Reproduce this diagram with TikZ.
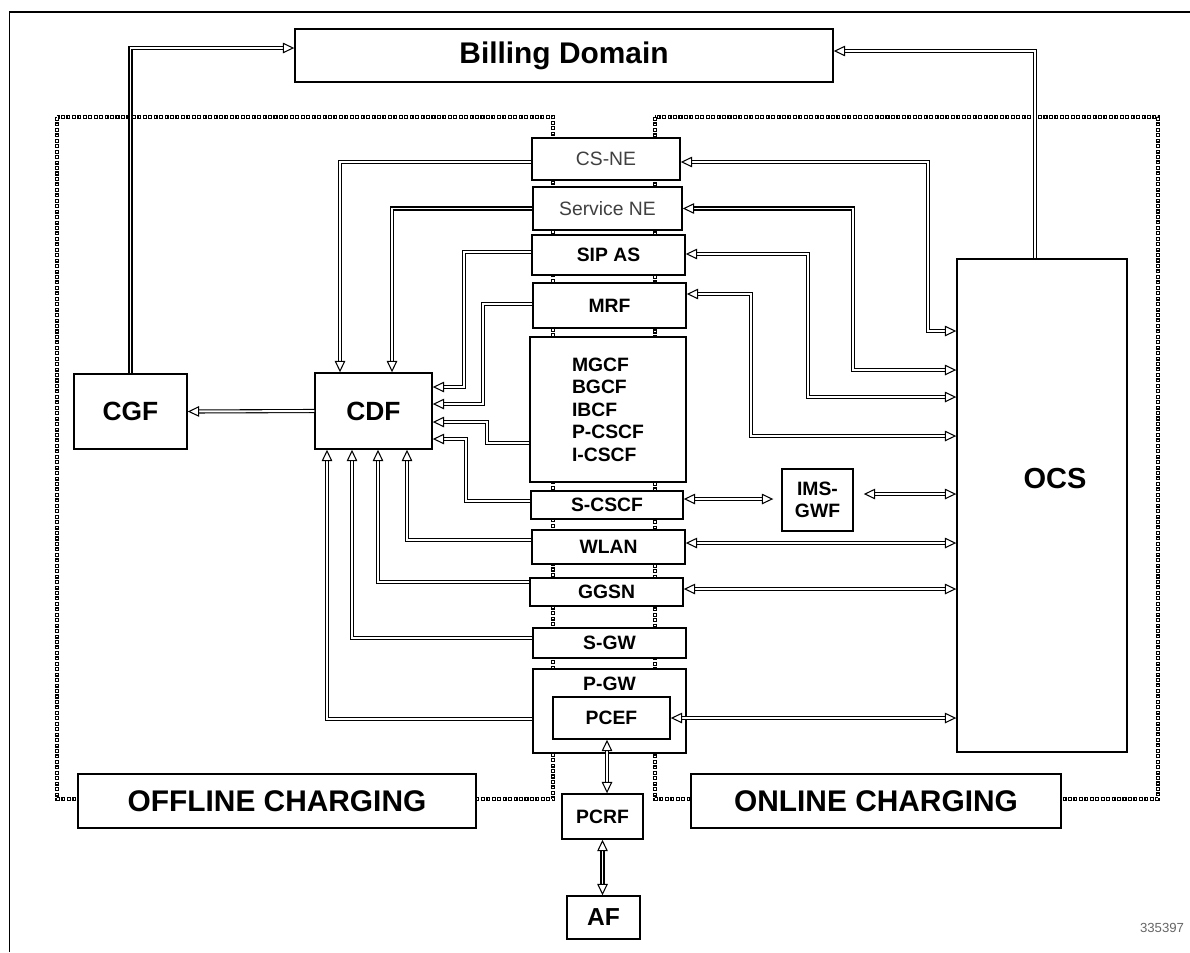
\documentclass[tikz,border=0pt]{standalone}
\usepackage{fontspec}
\setmainfont{Liberation Sans}
\usetikzlibrary{arrows.meta,positioning,backgrounds}

\begin{document}
\begin{tikzpicture}[
    x=0.2mm, y=-0.2mm,
    >={Triangle[open, length=6.5pt, width=6pt, line width=0.6pt]},
    box/.style={draw, line width=0.8pt, fill=white, inner sep=0pt, font=\fontsize{11}{13}\selectfont\bfseries},
    bigbox/.style={box, font=\fontsize{17}{20}\selectfont\bfseries},
    nebox/.style={box, font=\fontsize{11}{13}\selectfont, text=black!75},
    link/.style={double, line width=0.62pt, double distance=1.1pt},
    area/.style={line width=2pt, dash pattern=on 2.3pt off 0.8pt,
        postaction={draw=white, line width=0.6pt, dash pattern=on 0.9pt off 2.2pt, dash phase=2.4pt}}
]
\useasboundingbox (0,0) rectangle (1190,952);
\draw[line width=0.8pt] (9.6,952) -- (9.6,12) -- (1190,12);

\node[bigbox, minimum width=107.6mm, minimum height=10.6mm] (billing) at (564,55.5) {Billing Domain};

\node[box, minimum width=22.6mm, minimum height=15mm, font=\fontsize{15}{18}\selectfont\bfseries] (cgf) at (130.5,411.5) {CGF};
\node[box, minimum width=23.4mm, minimum height=15.2mm, font=\fontsize{15}{18}\selectfont\bfseries] (cdf) at (373.5,411) {CDF};

\node[nebox, minimum width=29.6mm, minimum height=8.4mm] (csne) at (606,159) {CS-NE};
\node[nebox, minimum width=29.8mm, minimum height=8.6mm] (servne) at (607.5,208.5) {Service NE};
\node[box, minimum width=30.6mm, minimum height=8mm] (sipas) at (608.5,255) {SIP AS};
\node[box, minimum width=30.6mm, minimum height=9mm] (mrf) at (609.5,305.5) {MRF};
\node[box, minimum width=31.2mm, minimum height=29mm, align=left, font=\fontsize{11}{12.8}\selectfont\bfseries] (mgcf) at (608,409.5) {MGCF\\BGCF\\IBCF\\P-CSCF\\I-CSCF};
\node[box, minimum width=30.4mm, minimum height=5.6mm] (scscf) at (607,505) {S-CSCF};
\node[box, minimum width=30.6mm, minimum height=6.8mm] (wlan) at (608.5,547) {WLAN};
\node[box, minimum width=30.6mm, minimum height=5.6mm] (ggsn) at (606.5,592) {GGSN};
\node[box, minimum width=30.6mm, minimum height=6mm] (sgw) at (609.5,643) {S-GW};
\node[box, minimum width=30.6mm, minimum height=16.8mm,
      label={[anchor=north, yshift=-0.5mm, font=\fontsize{11}{13}\selectfont\bfseries]north:P-GW}] (pgw) at (609.5,711) {};
\node[box, minimum width=23.4mm, minimum height=8.4mm] (pcef) at (611.5,718) {PCEF};
\node[box, minimum width=16.2mm, minimum height=9mm] (pcrf) at (602.5,816.5) {PCRF};
\node[box, minimum width=14.6mm, minimum height=8.6mm, font=\fontsize{14}{16}\selectfont\bfseries] (af) at (603.5,917.5) {AF};

\node[box, minimum width=14.2mm, minimum height=12.4mm, align=center, font=\fontsize{11}{12.8}\selectfont\bfseries] (imsgwf) at (817.5,500) {IMS-\\GWF};
\node[box, minimum width=34mm, minimum height=98.6mm,
      label={[xshift=2.6mm, yshift=5.3mm, font=\fontsize{16.5}{19}\selectfont\bfseries]center:OCS}] (ocs) at (1042,505.5) {};

\node[bigbox, minimum width=79.6mm, minimum height=10.8mm] (offline) at (277,801) {OFFLINE CHARGING};
\node[bigbox, minimum width=74mm, minimum height=10.8mm] (online) at (876,801) {ONLINE CHARGING};

\node[font=\fontsize{7.5}{9}\selectfont, text=black!60] (figno) at (1162,928) {335397};

\begin{scope}[on background layer]
  \draw[area] (57,117) rectangle (553,799);
  \draw[area] (655,117) rectangle (1158,799);
\end{scope}

\draw[link,->] (cgf.north) |- ([yshift=1.5mm]billing.west);
\draw[link,->] ([xshift=-1.4mm]ocs.north) |- ([yshift=0.9mm]billing.east);
\draw[link,->] (cdf.west) -- (cgf.east);

\draw[link,->] ([yshift=-0.6mm]csne.west) -| ([xshift=-6.7mm]cdf.north);
\draw[link,->] (servne.west) -| ([xshift=3.7mm]cdf.north);
\draw[link,->] ([yshift=0.6mm]sipas.west) -| ([xshift=6.2mm,yshift=4.8mm]cdf.east) -- ([yshift=4.8mm]cdf.east);
\draw[link,->] ([yshift=0.3mm]mrf.west) -| ([xshift=10mm,yshift=1.4mm]cdf.east) -- ([yshift=1.4mm]cdf.east);
\draw[link,->] ([yshift=-6.7mm]mgcf.west) -| ([xshift=10.8mm,yshift=-2.2mm]cdf.east) -- ([yshift=-2.2mm]cdf.east);
\draw[link,->] ([yshift=0.8mm]scscf.west) -| ([xshift=6.6mm,yshift=-5.6mm]cdf.east) -- ([yshift=-5.6mm]cdf.east);
\draw[link,->] ([yshift=1.4mm]wlan.west) -| ([xshift=6.7mm]cdf.south);
\draw[link,->] ([yshift=2mm]ggsn.west) -| ([xshift=0.9mm]cdf.south);
\draw[link,->] ([yshift=1mm]sgw.west) -| ([xshift=-4.3mm]cdf.south);
\draw[link,->] ([yshift=-1.6mm]pgw.west) -| ([xshift=-9.3mm]cdf.south);

\draw[link,<->] ([yshift=-0.6mm]csne.east) -| ([xshift=-5.6mm,yshift=34.9mm]ocs.west) -- ([yshift=34.9mm]ocs.west);
\draw[link,<->] (servne.east) -| ([xshift=-20.6mm,yshift=27.1mm]ocs.west) -- ([yshift=27.1mm]ocs.west);
\draw[link,<->] ([yshift=0.2mm]sipas.east) -| ([xshift=-29.6mm,yshift=21.7mm]ocs.west) -- ([yshift=21.7mm]ocs.west);
\draw[link,<->] ([yshift=2.3mm]mrf.east) -| ([xshift=-41mm,yshift=13.9mm]ocs.west) -- ([yshift=13.9mm]ocs.west);

\coordinate (sc) at ([yshift=1.2mm]scscf.east);
\coordinate (gw) at ([yshift=1.2mm]imsgwf.east);
\coordinate (wl) at ([yshift=0.8mm]wlan.east);
\coordinate (gg) at ([yshift=0.6mm]ggsn.east);
\draw[link,<->,shorten >=1.6mm] (sc) -- (sc -| imsgwf.west);
\draw[link,<->,shorten <=2mm] (gw) -- (gw -| ocs.west);
\draw[link,<->] (wl) -- (wl -| ocs.west);
\draw[link,<->] (gg) -- (gg -| ocs.west);
\draw[link,<->] (pcef.east) -- (pcef.east -| ocs.west);

\draw[link,<->] ([xshift=-0.9mm]pcef.south) -- ([xshift=-0.9mm]pcef.south |- pcrf.north);
\draw[link,<->] (pcrf.south) -- (pcrf.south |- af.north);

\end{tikzpicture}
\end{document}
